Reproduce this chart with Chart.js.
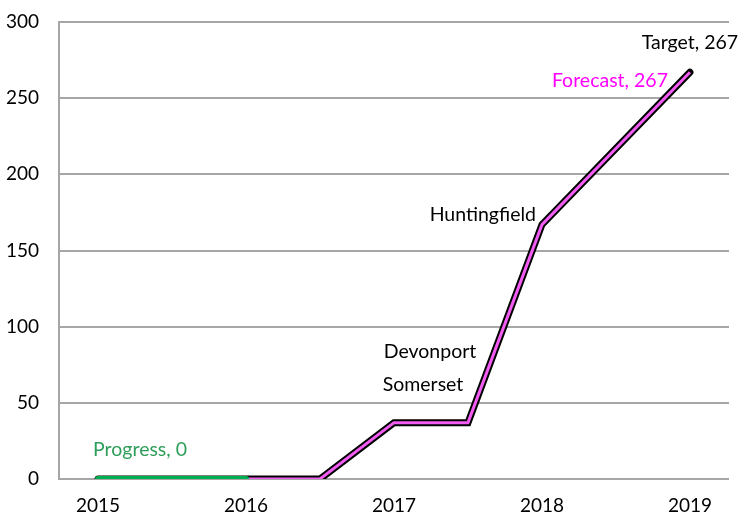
<!DOCTYPE html>
<html>
<head>
<meta charset="utf-8">
<script src="https://cdn.jsdelivr.net/npm/chart.js@4.4.1/dist/chart.umd.min.js"></script>
<style>
  html, body { margin: 0; padding: 0; background: #fff; }
  #wrap { width: 741px; height: 516px; }
</style>
</head>
<body>
<div id="wrap"><canvas id="chart" width="741" height="516"></canvas></div>
<script>
// x positions are years, half-years where the line changes
const yearTicks = [2015, 2016, 2017, 2018, 2019];
const yTicks = [0, 50, 100, 150, 200, 250, 300];

const targetYears = [2015, 2016, 2016.5, 2017, 2017.5, 2018, 2019];
const targetValues = [0, 0, 0, 37, 37, 167, 267];
const forecastValues = [0, 0, 0, 37, 37, 167, 267];

const progressYears = [2015, 2016];
const progressValues = [0, 0];

const FONT = 'Lato, "Open Sans", sans-serif';

const toPoints = (xs, ys) => xs.map((x, i) => ({ x: x, y: ys[i] }));

// ================= LABELS =================
const labelPlugin = {
  id: 'pointLabels',
  afterDatasetsDraw(chart) {
    const { ctx, scales: { x, y } } = chart;
    const at = (xv, yv) => [x.getPixelForValue(xv), y.getPixelForValue(yv)];
    const put = (text, color, align, px, py) => {
      ctx.fillStyle = color;
      ctx.textAlign = align;
      ctx.fillText(text, px, py);
    };
    ctx.save();
    ctx.font = '19.5px ' + FONT;
    ctx.textBaseline = 'middle';

    let [px, py] = at(2019, 267);
    put('Target, ' + targetValues[6], '#000', 'center', px, py - 30);
    put('Forecast, ' + forecastValues[6], '#ff00ff', 'right', px - 22, py + 8);

    [px, py] = at(2018, 167);
    put('Huntingfield', '#000', 'right', px - 6, py - 10);

    [px, py] = at(2017, 37);
    put('Devonport', '#000', 'center', px + 36, py - 71);
    put('Somerset', '#000', 'center', px + 29, py - 38);

    [px, py] = at(2015, 0);
    put('Progress, ' + progressValues[0], '#2e9e5a', 'left', px - 5, py - 29);
    ctx.restore();
  }
};

new Chart(document.getElementById('chart'), {
  type: 'line',
  data: {
    datasets: [
      {
        label: 'Progress',
        data: toPoints(progressYears, progressValues),
        borderColor: '#00b050',
        borderWidth: 6,
        borderCapStyle: 'round',
        pointRadius: 0,
        tension: 0
      },
      {
        label: 'Forecast',
        data: toPoints(targetYears, forecastValues),
        borderColor: '#f25cf2',
        borderWidth: 3,
        pointRadius: 0,
        tension: 0
      },
      {
        label: 'Target',
        data: toPoints(targetYears, targetValues),
        borderColor: '#000',
        borderWidth: 7,
        borderCapStyle: 'round',
        borderJoinStyle: 'miter',
        pointRadius: 0,
        tension: 0
      }
    ]
  },
  options: {
    responsive: false,
    animation: false,
    layout: { padding: { left: 0, right: 12, top: 22, bottom: 0 } },
    plugins: {
      legend: { display: false },
      tooltip: { enabled: false }
    },
    scales: {
      x: {
        type: 'linear',
        min: 2014.736,
        max: 2019.264,
        afterBuildTicks: axis => { axis.ticks = yearTicks.map(v => ({ value: v })); },
        afterFit: axis => { axis.height = 37; axis.paddingLeft = 0; axis.paddingRight = 0; },
        grid: { display: false, drawTicks: false },
        border: { display: false },
        ticks: {
          color: '#000',
          font: { family: FONT, size: 19 },
          padding: 15,
          maxRotation: 0,
          callback: v => String(v)
        }
      },
      y: {
        min: 0,
        max: 300,
        afterBuildTicks: axis => { axis.ticks = yTicks.map(v => ({ value: v })); },
        afterFit: axis => { axis.width = 59; axis.paddingTop = 0; axis.paddingBottom = 0; },
        grid: { color: '#a6a6a6', lineWidth: 2, drawTicks: false },
        border: { display: true, color: '#a6a6a6', width: 2 },
        ticks: {
          color: '#000',
          font: { family: FONT, size: 19 },
          padding: 20
        }
      }
    }
  },
  plugins: [labelPlugin]
});
</script>
</body>
</html>
